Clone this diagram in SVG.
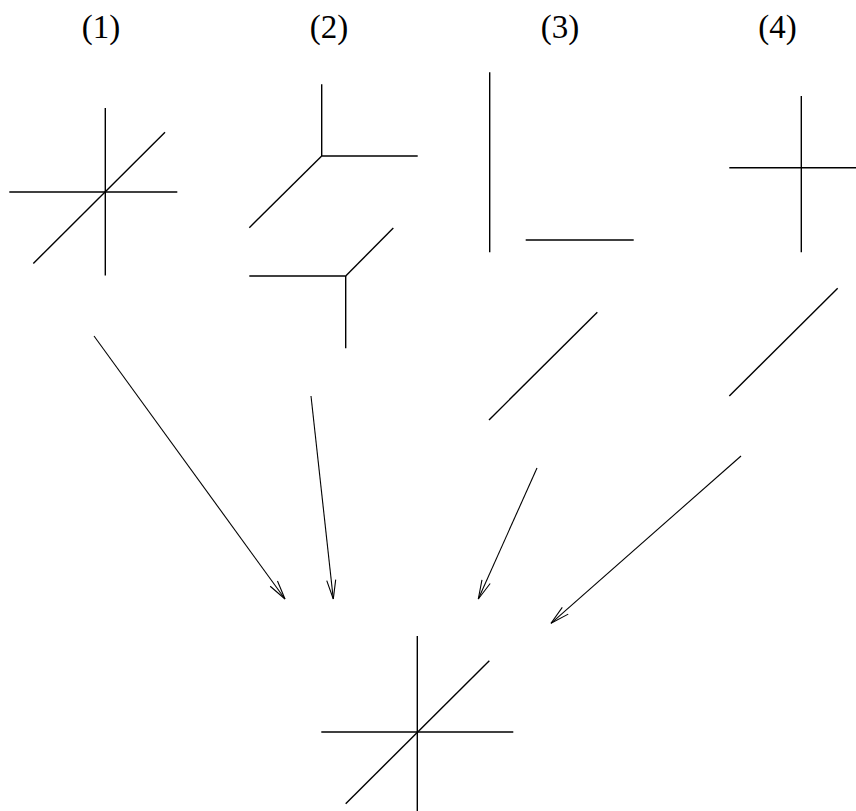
<svg xmlns="http://www.w3.org/2000/svg" width="856" height="811" viewBox="0 0 856 811">
<defs>
<style>
.s{stroke:#000;stroke-width:1.4;fill:none;stroke-linecap:butt}
.a{stroke:#000;stroke-width:1.1;fill:none}
.t{font-family:"Liberation Serif","Times New Roman",serif;font-size:33px;text-anchor:middle;fill:#000}
</style>
<marker id="ah" markerUnits="userSpaceOnUse" markerWidth="24" markerHeight="14" viewBox="-21 -7 23 14" refX="0" refY="0" orient="auto">
<path d="M-19,-4.5 L0,0 L-19,4.5" stroke="#000" stroke-width="1.1" fill="none"/>
</marker>
</defs>
<rect width="856" height="811" fill="#fff"/>
<g id="labels">
<text class="t" x="101" y="38">(1)</text>
<text class="t" x="329" y="38">(2)</text>
<text class="t" x="560" y="38">(3)</text>
<text class="t" x="777.5" y="38">(4)</text>
</g>
<g id="fig1" class="s">
<line x1="105.3" y1="108" x2="105.3" y2="275.5"/>
<line x1="9.3" y1="192" x2="177.3" y2="192"/>
<line x1="33.3" y1="263.5" x2="165" y2="132.3"/>
</g>
<g id="fig2a" class="s">
<line x1="321.7" y1="84.3" x2="321.7" y2="156"/>
<line x1="321.7" y1="156" x2="417.7" y2="156"/>
<line x1="321.7" y1="156" x2="249.3" y2="227.7"/>
</g>
<g id="fig2b" class="s">
<line x1="249.3" y1="276" x2="345.7" y2="276"/>
<line x1="345.7" y1="276" x2="345.7" y2="348.3"/>
<line x1="345.7" y1="276" x2="393.3" y2="228"/>
</g>
<g id="fig3" class="s">
<line x1="489.7" y1="72.3" x2="489.7" y2="252.3"/>
<line x1="525.7" y1="240" x2="633.7" y2="240"/>
</g>
<g id="fig3b" class="s">
<line x1="489" y1="420" x2="597.3" y2="312.3"/>
</g>
<g id="fig4" class="s">
<line x1="801.3" y1="96" x2="801.3" y2="252.3"/>
<line x1="729.3" y1="167.7" x2="856" y2="167.7"/>
</g>
<g id="fig4b" class="s">
<line x1="729.3" y1="396" x2="837.7" y2="288.3"/>
</g>
<g id="result" class="s">
<line x1="417.3" y1="636" x2="417.3" y2="811"/>
<line x1="321.3" y1="732" x2="513.3" y2="732"/>
<line x1="345.7" y1="803.7" x2="489.3" y2="660.7"/>
</g>
<g id="connectors" class="a">
<line x1="94" y1="336" x2="285" y2="599" marker-end="url(#ah)"/>
<line x1="311" y1="396" x2="333.3" y2="599" marker-end="url(#ah)"/>
<line x1="537" y1="468" x2="478.3" y2="599" marker-end="url(#ah)"/>
<line x1="741" y1="456" x2="551" y2="623.3" marker-end="url(#ah)"/>
</g>
</svg>
